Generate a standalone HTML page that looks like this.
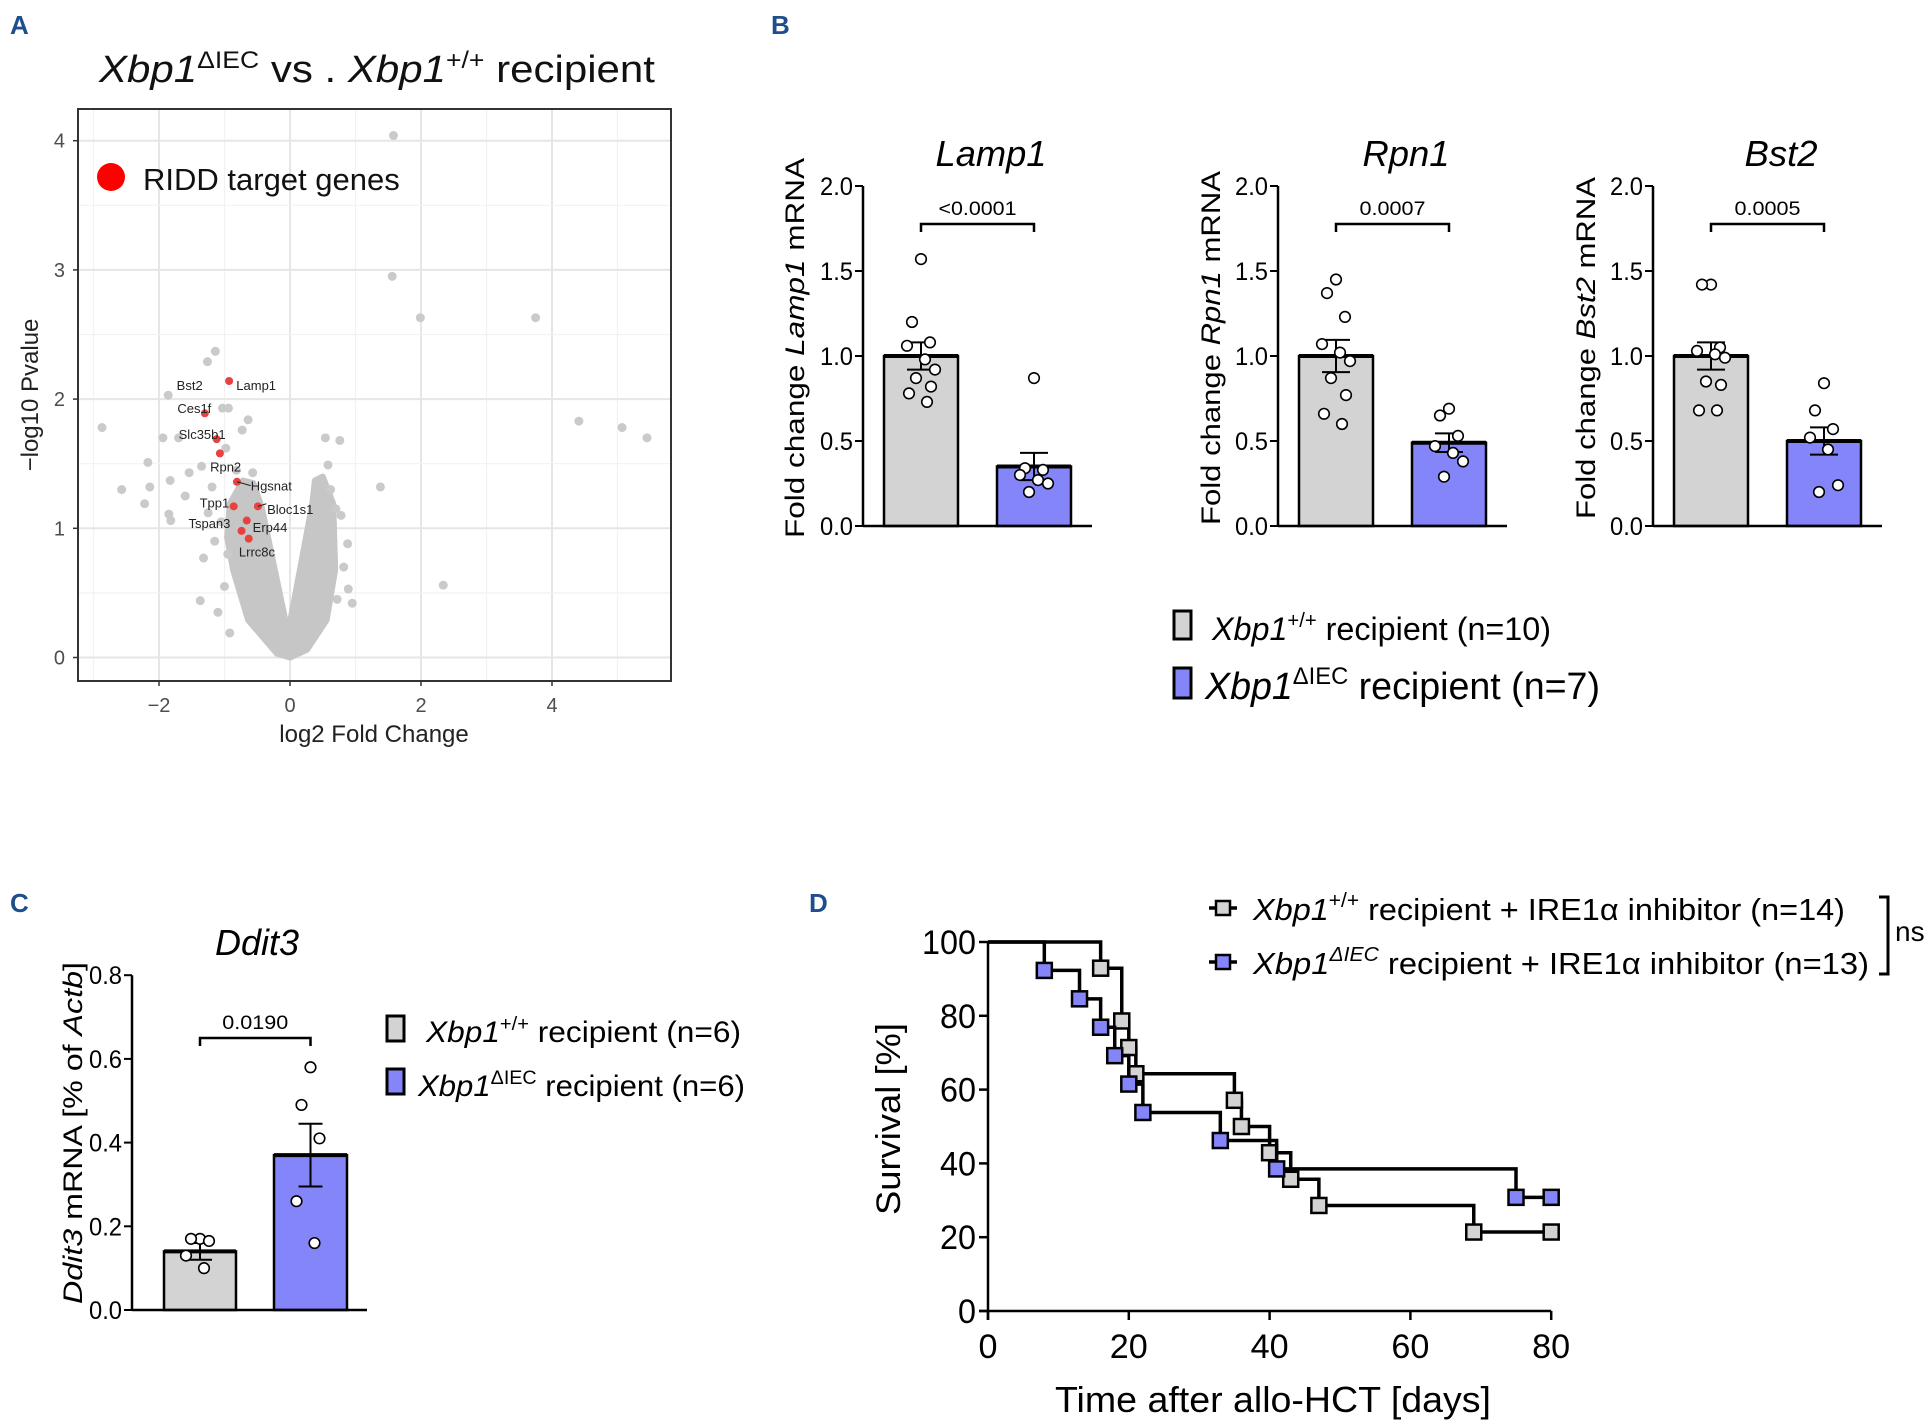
<!DOCTYPE html>
<html><head><meta charset="utf-8"><style>
html,body{margin:0;padding:0;background:#fff;}
svg{display:block;}
text{font-family:"Liberation Sans",sans-serif;}
.n{font-family:"Liberation Sans Narrow","Liberation Sans",sans-serif;}
</style></head><body>
<svg id="fig" width="1928" height="1427" viewBox="0 0 1928 1427" xmlns="http://www.w3.org/2000/svg">
<g font-weight="bold" fill="#1f4e8c" font-size="26">
<text x="10" y="34">A</text>
<text x="771" y="34">B</text>
<text x="10" y="912">C</text>
<text x="809" y="912">D</text>
</g>
<g id="pA"></g>
<g id="pB"></g>
<g id="pC"></g>
<g id="pD"></g>
</svg>
<script>
// ---------- Panel A data ----------
const volcanoTicksX = [-2, 0, 2, 4];
const volcanoTicksY = [0, 1, 2, 3, 4];
const outlierFC = [1.58,1.56,1.99,3.75,4.41,5.07,5.45,2.34,1.38,-2.87,-1.14,-1.26,-1.86,-2.57,-2.17,-2.22,-2.14,-1.83,-1.54,-1.94,-1.32,-1.37,-1.10,-0.92,-0.64,-0.94,-0.73,0.76,0.54,0.58,0.88,0.95,0.89,-1.35,-1.85,-1.82,-0.57,-1.19,-1.70,-1.03,-0.98,0.62,0.70,-1.60,-1.05,-1.15,-1.25,-0.82,0.78,0.82,0.72,-1.00,-0.95];
const outlierP  = [4.04,2.95,2.63,2.63,1.83,1.78,1.70,0.56,1.32,1.78,2.37,2.29,2.03,1.30,1.51,1.19,1.32,1.37,1.43,1.70,0.77,0.44,0.35,0.19,1.84,1.93,1.76,1.68,1.70,1.49,0.88,0.42,0.53,1.48,1.11,1.06,1.43,1.32,1.70,1.93,1.62,1.30,1.15,1.25,1.05,0.90,1.12,1.45,1.10,0.70,0.45,0.55,0.80];
const cloudFC = [0,-0.2,-0.64,-0.87,-0.96,-0.92,-0.72,-0.56,-0.43,-0.03,0.34,0.38,0.5,0.66,0.69,0.56,0.26];
const cloudP  = [0,0.03,0.29,0.68,0.93,1.19,1.37,1.35,1.16,0.19,1.19,1.37,1.40,1.19,0.68,0.29,0.06];
const riddGenes = ["Lamp1","Ces1f","Slc35b1","Rpn2","Hgsnat","Bloc1s1","Tpp1","Erp44","Tspan3","Lrrc8c"];
const riddFC = [-0.93,-1.30,-1.12,-1.07,-0.81,-0.49,-0.86,-0.66,-0.74,-0.63];
const riddP  = [2.14,1.89,1.69,1.58,1.36,1.17,1.17,1.06,0.98,0.92];

// ---------- Panel B data ----------
const bGenes = ["Lamp1","Rpn1","Bst2"];
const bPvals = ["<0.0001","0.0007","0.0005"];
const bTicks = [0.0, 0.5, 1.0, 1.5, 2.0];
const bMeanWT = [1.0, 1.0, 1.0];
const bSemWT = [0.08, 0.095, 0.08];
const bMeanKO = [0.35, 0.49, 0.50];
const bSemKO = [0.08, 0.055, 0.08];
const lamp1WT = [1.57,1.20,1.08,1.06,0.98,0.92,0.87,0.82,0.78,0.73];
const lamp1KO = [0.87,0.34,0.33,0.30,0.27,0.25,0.20];
const rpn1WT = [1.45,1.37,1.23,1.07,1.02,0.97,0.87,0.77,0.66,0.60];
const rpn1KO = [0.69,0.65,0.53,0.47,0.43,0.38,0.29];
const bst2WT = [1.42,1.42,1.05,1.03,1.01,0.99,0.85,0.83,0.68,0.68];
const bst2KO = [0.84,0.68,0.57,0.52,0.45,0.24,0.20];

// ---------- Panel C data ----------
const cTicks = [0.0,0.2,0.4,0.6,0.8];
const cMeans = [0.14, 0.37];
const cSems = [0.02, 0.075];
const ddit3WT = [0.17,0.17,0.165,0.13,0.10];
const ddit3KO = [0.58,0.49,0.41,0.26,0.16];

// ---------- Panel D data ----------
const dTicksX = [0,20,40,60,80];
const dTicksY = [0,20,40,60,80,100];
const wtTimes = [16,19,20,21,35,36,40,43,47,69];
const wtSurv  = [92.9,78.6,71.4,64.3,57.1,50.0,42.9,35.7,28.6,21.4];
const koTimes = [8,13,16,18,20,22,33,41,75];
const koSurv  = [92.3,84.6,76.9,69.2,61.5,53.8,46.2,38.5,30.8];
const endDay = 80;

const NS="http://www.w3.org/2000/svg";
function el(tag, attrs, parent){const e=document.createElementNS(NS,tag);for(const k in attrs)e.setAttribute(k,attrs[k]);parent.appendChild(e);return e;}
const GRAY="#d3d3d3", BLUE="#8585fa";

// ================= Panel A =================
(function(){
const g=document.getElementById('pA');
const L=78,R=671,T=109,B=681;
const xs=v=>290+v*65.5, ys=v=>657.5-v*129.2;
let e=el('rect',{x:L,y:T,width:R-L,height:B-T,fill:'#fff'},g);

for(let v=-3;v<=5.5;v+=1){const x=xs(v);if(x<L||x>R)continue;const major=volcanoTicksX.includes(v);
 e=el('line',{x1:x,x2:x,y1:T,y2:B,stroke:major?'#e6e6e6':'#f2f2f2','stroke-width':major?2:1.2},g);
 }
for(let v=0;v<=4.4;v+=0.5){const y=ys(v);const major=Number.isInteger(v);
 e=el('line',{x1:L,x2:R,y1:y,y2:y,stroke:major?'#e6e6e6':'#f2f2f2','stroke-width':major?2:1.2},g);
 }
e=el('polygon',{points:cloudFC.map((v,i)=>xs(v)+','+ys(cloudP[i])).join(' '),fill:'#c6c6c6',stroke:'#c6c6c6','stroke-width':6,'stroke-linejoin':'round'},g);

outlierFC.forEach((v,i)=>{e=el('circle',{cx:xs(v),cy:ys(outlierP[i]),r:4.5,fill:'#cacaca'},g);
 });
riddFC.forEach((v,i)=>{e=el('circle',{cx:xs(v),cy:ys(riddP[i]),r:4,fill:'#e8413f'},g);
 });
const lab=[["Bst2",-1.73,2.11],["Lamp1",-0.82,2.11],["Ces1f",-1.72,1.93],["Slc35b1",-1.70,1.73],["Rpn2",-1.22,1.48],["Hgsnat",-0.6,1.33],["Bloc1s1",-0.35,1.15],["Tpp1",-1.38,1.20],["Erp44",-0.57,1.01],["Tspan3",-1.55,1.04],["Lrrc8c",-0.78,0.82]];
lab.forEach(l=>{e=el('text',{x:xs(l[1]),y:ys(l[2])+5,'font-size':13,fill:'#222'},g);e.textContent=l[0];
 });
[[-0.81,1.36,-0.6,1.33],[-0.49,1.17,-0.36,1.19]].forEach(s=>{el('line',{x1:xs(s[0]),y1:ys(s[1]),x2:xs(s[2]),y2:ys(s[3]),stroke:'#222','stroke-width':1},g);});
e=el('rect',{x:L,y:T,width:R-L,height:B-T,fill:'none',stroke:'#333','stroke-width':2},g);

volcanoTicksX.forEach(v=>{el('line',{x1:xs(v),x2:xs(v),y1:B,y2:B+5,stroke:'#333','stroke-width':1.5},g);
 e=el('text',{x:xs(v),y:B+31,'font-size':20,fill:'#4d4d4d','text-anchor':'middle'},g);e.textContent=v<0?'\u2212'+(-v):v;
 });
volcanoTicksY.forEach(v=>{el('line',{x1:L-5,x2:L,y1:ys(v),y2:ys(v),stroke:'#333','stroke-width':1.5},g);
 e=el('text',{x:L-13,y:ys(v)+7,'font-size':20,fill:'#4d4d4d','text-anchor':'end'},g);e.textContent=v;
 });
e=el('text',{x:374,y:742,'font-size':24,fill:'#222','text-anchor':'middle'},g);e.textContent='log2 Fold Change';

e=el('text',{x:0,y:0,'font-size':24,fill:'#222','text-anchor':'middle',transform:'translate(38,395) rotate(-90)'},g);e.textContent='\u2212log10 Pvalue';

e=el('circle',{cx:111,cy:177,r:14,fill:'#ff0000'},g);

e=el('text',{x:143,y:190,'font-size':31,fill:'#111'},g);e.textContent='RIDD target genes';

e=el('text',{x:99,y:82,'font-size':38,fill:'#111',textLength:556,lengthAdjust:'spacingAndGlyphs'},g);
e.innerHTML='<tspan font-style="italic">Xbp1</tspan><tspan font-size="24" dy="-14">ΔIEC</tspan><tspan dy="14"> vs . </tspan><tspan font-style="italic">Xbp1</tspan><tspan font-size="24" dy="-14">+/+</tspan><tspan dy="14"> recipient</tspan>';

})();

// ================= bar chart helper =================
function barChart(g, o){
 let e;
 const ys=v=>o.y0-v*o.unit;
 const draw=(x1,x2,mean,sem,pts,fill,nm)=>{
  e=el('rect',{x:x1,y:ys(mean),width:x2-x1,height:o.y0-ys(mean),fill:fill,stroke:'#000','stroke-width':2.5},g);
  
  const cx=(x1+x2)/2, cw=o.cap;
  el('line',{x1:cx,x2:cx,y1:ys(mean+sem),y2:ys(mean-sem),stroke:'#000','stroke-width':2},g);
  el('line',{x1:cx-cw,x2:cx+cw,y1:ys(mean+sem),y2:ys(mean+sem),stroke:'#000','stroke-width':2},g);
  el('line',{x1:cx-cw,x2:cx+cw,y1:ys(mean-sem),y2:ys(mean-sem),stroke:'#000','stroke-width':2},g);
  el('line',{x1:x1,x2:x2,y1:ys(mean),y2:ys(mean),stroke:'#000','stroke-width':4},g);
  const jit=[0,-9,9,-14,4,14,-5,10,-12,6];
  pts.forEach((v,i)=>{e=el('circle',{cx:cx+jit[i%jit.length],cy:ys(v),r:5.3,fill:'#fff',stroke:'#000','stroke-width':1.6},g);
   });
 };
 draw(o.g1[0],o.g1[1],o.m1,o.s1,o.p1,GRAY,'bar-wt');
 draw(o.g2[0],o.g2[1],o.m2,o.s2,o.p2,BLUE,'bar-ko');
 e=el('line',{x1:o.ax,x2:o.ax,y1:ys(o.ticks[o.ticks.length-1]),y2:o.y0,stroke:'#000','stroke-width':2.5},g);
 
 e=el('line',{x1:o.ax,x2:o.xend,y1:o.y0,y2:o.y0,stroke:'#000','stroke-width':2.5},g);
 
 o.ticks.forEach(v=>{el('line',{x1:o.ax-8,x2:o.ax,y1:ys(v),y2:ys(v),stroke:'#000','stroke-width':2},g);
  e=el('text',{x:o.ax-10,y:ys(v)+9,'font-size':25,'text-anchor':'end','class':'n',textLength:33,lengthAdjust:'spacingAndGlyphs'},g);e.textContent=v.toFixed(1);
  });
 const bx1=(o.g1[0]+o.g1[1])/2, bx2=(o.g2[0]+o.g2[1])/2;
 e=el('path',{d:`M${bx1},${o.by+8}V${o.by}H${bx2}V${o.by+8}`,fill:'none',stroke:'#000','stroke-width':2.5},g);
 
 e=el('text',{x:(bx1+bx2)/2,y:o.by-9,'font-size':19,'text-anchor':'middle','class':'n',textLength:o.pl,lengthAdjust:'spacingAndGlyphs'},g);e.textContent=o.p;
 
 e=el('text',{x:o.tx,y:o.ty,'font-size':36,'font-style':'italic','text-anchor':'middle','class':'n',textLength:o.tl,lengthAdjust:'spacingAndGlyphs'},g);e.textContent=o.title;
 
 e=el('text',{x:0,y:0,'font-size':27,'text-anchor':'middle',transform:`translate(${o.lx},${o.ly}) rotate(-90)`,textLength:o.ll,lengthAdjust:'spacingAndGlyphs'},g);
 e.innerHTML=o.label;
 
}
// ================= Panel B =================
(function(){
 const g=document.getElementById('pB');
 const wt=[lamp1WT,rpn1WT,bst2WT], ko=[lamp1KO,rpn1KO,bst2KO];
 const ax=[863,1278,1653], lx=[804,1220,1595], ll=[380,354,342], tl=[111,87,73], pl=[78,66,66];
 bGenes.forEach((gn,i)=>{
  const sg=el('g',{},g);
  
  barChart(sg,{ax:ax[i],xend:ax[i]+229,y0:526,unit:170,ticks:bTicks,g1:[ax[i]+21,ax[i]+95],g2:[ax[i]+134,ax[i]+208],
   m1:bMeanWT[i],s1:bSemWT[i],p1:wt[i],m2:bMeanKO[i],s2:bSemKO[i],p2:ko[i],cap:14,by:224,p:bPvals[i],pl:pl[i],
   tx:ax[i]+128,ty:166,title:gn,tl:tl[i],lx:lx[i],ly:348,ll:ll[i],
   label:'Fold change <tspan font-style="italic">'+gn+'</tspan> mRNA'});
 });
 let e;
 e=el('rect',{x:1174,y:611,width:17,height:28,fill:GRAY,stroke:'#000','stroke-width':3},g);
 
 e=el('text',{x:1212,y:640,'font-size':32,'class':'n',textLength:339,lengthAdjust:'spacingAndGlyphs'},g);
 e.innerHTML='<tspan font-style="italic">Xbp1</tspan><tspan font-size="20" dy="-13">+/+</tspan><tspan dy="13"> recipient  (n=10)</tspan>';
 
 e=el('rect',{x:1174,y:668,width:17,height:30,fill:BLUE,stroke:'#000','stroke-width':3},g);
 
 e=el('text',{x:1205,y:699,'font-size':38,'class':'n',textLength:395,lengthAdjust:'spacingAndGlyphs'},g);
 e.innerHTML='<tspan font-style="italic">Xbp1</tspan><tspan font-size="24" dy="-15">ΔIEC</tspan><tspan dy="15"> recipient (n=7)</tspan>';
 
})();
// ================= Panel C =================
(function(){
 const g=document.getElementById('pC');
 barChart(g,{ax:132,xend:367,y0:1310,unit:418.5,ticks:cTicks,g1:[164,236],g2:[274,347],
  m1:cMeans[0],s1:cSems[0],p1:ddit3WT,m2:cMeans[1],s2:cSems[1],p2:ddit3KO,cap:12,by:1038,p:'0.0190',pl:66,
  tx:257,ty:955,title:'Ddit3',tl:84,lx:82,ly:1133,ll:342,
  label:'<tspan font-style="italic">Ddit3</tspan> mRNA  [% of <tspan font-style="italic">Actb</tspan>]'});
 let e;
 e=el('rect',{x:387,y:1016,width:17,height:25,fill:GRAY,stroke:'#000','stroke-width':3},g);
 
 e=el('text',{x:426,y:1042,'font-size':30,'class':'n',textLength:315,lengthAdjust:'spacingAndGlyphs'},g);
 e.innerHTML='<tspan font-style="italic">Xbp1</tspan><tspan font-size="19" dy="-12">+/+</tspan><tspan dy="12"> recipient  (n=6)</tspan>';
 
 e=el('rect',{x:387,y:1069,width:17,height:25,fill:BLUE,stroke:'#000','stroke-width':3},g);
 
 e=el('text',{x:418,y:1096,'font-size':30,'class':'n',textLength:327,lengthAdjust:'spacingAndGlyphs'},g);
 e.innerHTML='<tspan font-style="italic">Xbp1</tspan><tspan font-size="19" dy="-12">ΔIEC</tspan><tspan dy="12"> recipient (n=6)</tspan>';
 
})();
// ================= Panel D =================
(function(){
 const g=document.getElementById('pD');
 const xs=d=>988+d*7.04, ys=v=>1311-v*3.69;
 let e;
 function curve(times,surv,fill,nm){
  let d=`M${xs(0)},${ys(100)}`;
  times.forEach((t,i)=>{d+=`H${xs(t)}V${ys(surv[i])}`;});
  d+=`H${xs(endDay)}`;
  e=el('path',{d:d,fill:'none',stroke:'#000','stroke-width':3.5},g);
  
  times.concat([endDay]).forEach((t,i)=>{const v=i<surv.length?surv[i]:surv[surv.length-1];
   e=el('rect',{x:xs(t)-7.5,y:ys(v)-7.5,width:15,height:15,fill:fill,stroke:'#000','stroke-width':2.5},g);
   });
 }
 curve(wtTimes,wtSurv,GRAY,'survival-wt');
 curve(koTimes,koSurv,BLUE,'survival-ko');
 e=el('line',{x1:xs(0),x2:xs(0),y1:ys(100),y2:ys(0)+9,stroke:'#000','stroke-width':2.5},g);
 
 e=el('line',{x1:xs(0)-9,x2:xs(80),y1:ys(0),y2:ys(0),stroke:'#000','stroke-width':2.5},g);
 
 dTicksY.forEach(v=>{el('line',{x1:xs(0)-9,x2:xs(0),y1:ys(v),y2:ys(v),stroke:'#000','stroke-width':2.5},g);
  e=el('text',{x:xs(0)-12,y:ys(v)+12,'font-size':34,'text-anchor':'end','class':'n',textLength:String(v).length*18,lengthAdjust:'spacingAndGlyphs'},g);e.textContent=v;
  });
 dTicksX.forEach(v=>{el('line',{x1:xs(v),x2:xs(v),y1:ys(0),y2:ys(0)+9,stroke:'#000','stroke-width':2.5},g);
  e=el('text',{x:xs(v),y:ys(0)+47,'font-size':34,'text-anchor':'middle','class':'n',textLength:String(v).length*19,lengthAdjust:'spacingAndGlyphs'},g);e.textContent=v;
  });
 e=el('text',{x:1273,y:1412,'font-size':36,'text-anchor':'middle','class':'n',textLength:436,lengthAdjust:'spacingAndGlyphs'},g);
 e.textContent='Time after allo-HCT [days]';
 
 e=el('text',{x:0,y:0,'font-size':34,'text-anchor':'middle',transform:'translate(900,1119) rotate(-90)',textLength:192,lengthAdjust:'spacingAndGlyphs'},g);
 e.textContent='Survival [%]';
 
 [[908,GRAY,'wt',1845,'+/+','recipient + IRE1\u03b1 inhibitor (n=14)'],[962,BLUE,'ko',1869,'\u0394IEC','recipient + IRE1\u03b1 inhibitor  (n=13)']].forEach(r=>{
  el('line',{x1:1209,x2:1237,y1:r[0],y2:r[0],stroke:'#000','stroke-width':3.5},g);
  e=el('rect',{x:1216,y:r[0]-7,width:14,height:14,fill:r[1],stroke:'#000','stroke-width':2.5},g);
  
  e=el('text',{x:1253,y:r[0]+12,'font-size':31,'class':'n',textLength:r[3]-1253,lengthAdjust:'spacingAndGlyphs'},g);
  e.innerHTML='<tspan font-style="italic">Xbp1</tspan><tspan font-size="20" dy="-13"'+(r[2]=='ko'?' font-style="italic"':'')+'>'+r[4]+'</tspan><tspan dy="13"> '+r[5]+'</tspan>';
  
 });
 e=el('path',{d:'M1879,897H1888V974H1879',fill:'none',stroke:'#000','stroke-width':3},g);
 
 e=el('text',{x:1895,y:941,'font-size':28,'class':'n'},g);e.textContent='ns';
 
})();
</script>
</body></html>
